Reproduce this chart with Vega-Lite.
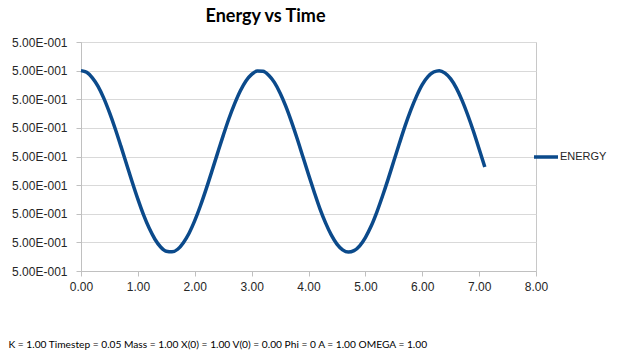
{
  "$schema": "https://vega.github.io/schema/vega-lite/v6.json",
  "width": 455,
  "height": 229,
  "autosize": {"type": "none"},
  "padding": {"left": 81, "top": 42, "right": 82, "bottom": 89},
  "background": "white",
  "title": {
    "text": "Energy vs Time",
    "font": "Lato",
    "fontSize": 18,
    "fontWeight": "bold",
    "color": "#000000",
    "anchor": "middle",
    "dx": -43,
    "offset": 10
  },
  "config": {
    "view": {"stroke": "#c8c8c8", "strokeWidth": 1},
    "axis": {
      "labelFont": "Liberation Sans",
      "labelFontSize": 12,
      "labelColor": "#262626",
      "domainColor": "#c0c0c0",
      "tickColor": "#c0c0c0",
      "gridColor": "#d9d9d9",
      "tickSize": 5
    }
  },
  "data": {
    "values": [
      {"t": 0.0, "energy": 7.00}, {"t": 0.1, "energy": 6.94}, {"t": 0.2, "energy": 6.75}, {"t": 0.3, "energy": 6.45},
      {"t": 0.4, "energy": 6.04}, {"t": 0.5, "energy": 5.54}, {"t": 0.6, "energy": 4.98}, {"t": 0.7, "energy": 4.37},
      {"t": 0.8, "energy": 3.74}, {"t": 0.9, "energy": 3.11}, {"t": 1.0, "energy": 2.51}, {"t": 1.1, "energy": 1.96},
      {"t": 1.2, "energy": 1.49}, {"t": 1.3, "energy": 1.11}, {"t": 1.4, "energy": 0.84}, {"t": 1.5, "energy": 0.69},
      {"t": 1.6, "energy": 0.67}, {"t": 1.7, "energy": 0.76}, {"t": 1.8, "energy": 0.99}, {"t": 1.9, "energy": 1.32},
      {"t": 2.0, "energy": 1.76}, {"t": 2.1, "energy": 2.28}, {"t": 2.2, "energy": 2.86}, {"t": 2.3, "energy": 3.48},
      {"t": 2.4, "energy": 4.11}, {"t": 2.5, "energy": 4.73}, {"t": 2.6, "energy": 5.32}, {"t": 2.7, "energy": 5.84},
      {"t": 2.8, "energy": 6.29}, {"t": 2.9, "energy": 6.64}, {"t": 3.0, "energy": 6.87}, {"t": 3.1, "energy": 6.99},
      {"t": 3.2, "energy": 6.98}, {"t": 3.3, "energy": 6.84}, {"t": 3.4, "energy": 6.59}, {"t": 3.5, "energy": 6.22},
      {"t": 3.6, "energy": 5.76}, {"t": 3.7, "energy": 5.22}, {"t": 3.8, "energy": 4.63}, {"t": 3.9, "energy": 4.00},
      {"t": 4.0, "energy": 3.37}, {"t": 4.1, "energy": 2.76}, {"t": 4.2, "energy": 2.18}, {"t": 4.3, "energy": 1.68},
      {"t": 4.4, "energy": 1.26}, {"t": 4.5, "energy": 0.94}, {"t": 4.6, "energy": 0.74}, {"t": 4.7, "energy": 0.66},
      {"t": 4.8, "energy": 0.71}, {"t": 4.9, "energy": 0.88}, {"t": 5.0, "energy": 1.17}, {"t": 5.1, "energy": 1.56},
      {"t": 5.2, "energy": 2.05}, {"t": 5.3, "energy": 2.61}, {"t": 5.4, "energy": 3.21}, {"t": 5.5, "energy": 3.84},
      {"t": 5.6, "energy": 4.47}, {"t": 5.7, "energy": 5.08}, {"t": 5.8, "energy": 5.63}, {"t": 5.9, "energy": 6.11},
      {"t": 6.0, "energy": 6.51}, {"t": 6.1, "energy": 6.79}, {"t": 6.2, "energy": 6.95}, {"t": 6.3, "energy": 7.00},
      {"t": 6.4, "energy": 6.91}, {"t": 6.5, "energy": 6.71}, {"t": 6.6, "energy": 6.39}, {"t": 6.7, "energy": 5.96},
      {"t": 6.8, "energy": 5.45}, {"t": 6.9, "energy": 4.88}, {"t": 7.0, "energy": 4.26}, {"t": 7.1, "energy": 3.63}
    ]
  },
  "mark": {"type": "line", "strokeWidth": 3.5, "interpolate": "monotone"},
  "encoding": {
    "x": {
      "field": "t",
      "type": "quantitative",
      "scale": {"domain": [0, 8], "nice": false},
      "axis": {
        "values": [0, 1, 2, 3, 4, 5, 6, 7, 8],
        "format": ".2f",
        "grid": false,
        "labelFlush": false,
        "labelPadding": 5,
        "title": "K = 1.00 Timestep = 0.05 Mass = 1.00 X(0) = 1.00 V(0) = 0.00 Phi = 0 A = 1.00 OMEGA = 1.00",
        "titleFont": "Lato",
        "titleFontSize": 10.2,
        "titleFontWeight": "normal",
        "titleColor": "#000000",
        "titleAnchor": "start",
        "titleAlign": "left",
        "titleX": -73,
        "titlePadding": 47
      }
    },
    "y": {
      "field": "energy",
      "type": "quantitative",
      "scale": {"domain": [0, 8], "nice": false},
      "axis": {
        "values": [0, 1, 2, 3, 4, 5, 6, 7, 8],
        "labelExpr": "'5.00E-001'",
        "grid": true,
        "title": null,
        "labelPadding": 9
      }
    },
    "color": {
      "datum": "ENERGY",
      "type": "nominal",
      "scale": {"range": ["#0b4a8b"]},
      "legend": {
        "title": null,
        "orient": "none",
        "legendX": 451,
        "legendY": 101,
        "padding": 0,
        "symbolType": "stroke",
        "symbolSize": 576,
        "symbolStrokeWidth": 3.5,
        "labelFont": "Liberation Sans",
        "labelFontSize": 11,
        "labelColor": "#262626",
        "labelOffset": 0
      }
    }
  }
}
